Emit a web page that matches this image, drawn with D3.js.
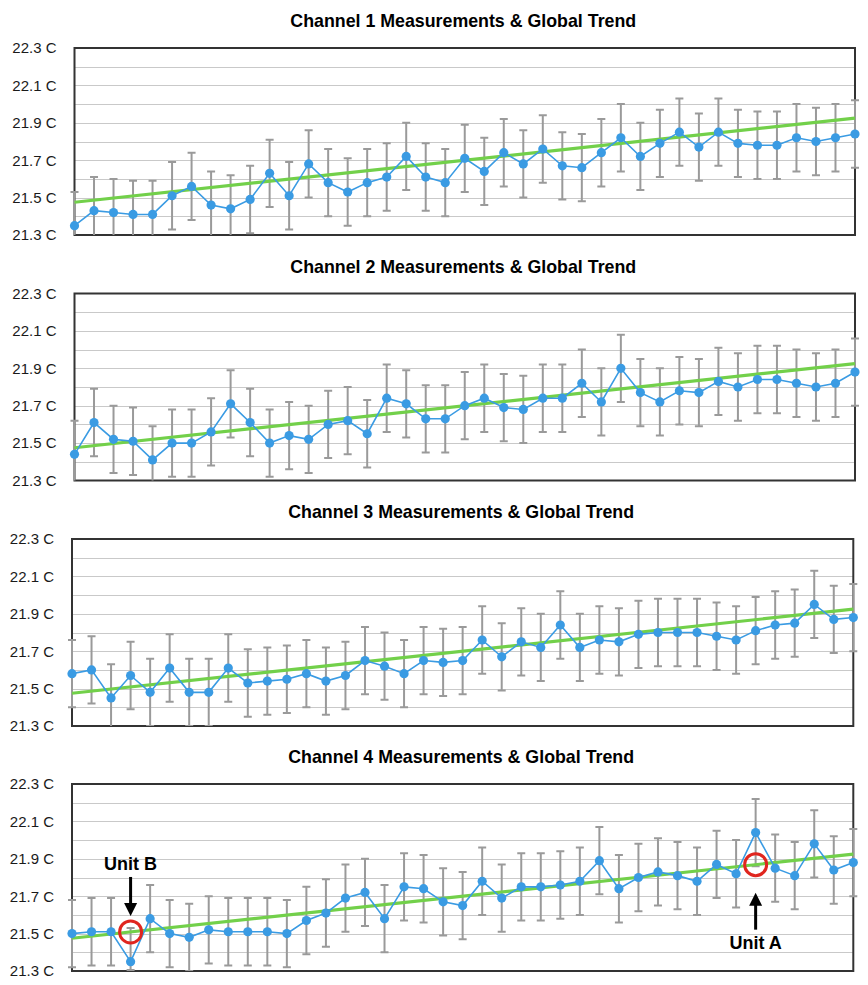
<!DOCTYPE html>
<html>
<head>
<meta charset="utf-8">
<script src="https://cdn.jsdelivr.net/npm/d3@7"></script>
<style>
  body { margin: 0; background: #ffffff; }
  svg { display: block; font-family: "Liberation Sans", Arial, Helvetica, sans-serif; }
</style>
</head>
<body>
<svg id="chart" width="868" height="985"></svg>
<script>
// ---------------- DATA ----------------
const channelTitles = [
  "Channel 1 Measurements & Global Trend",
  "Channel 2 Measurements & Global Trend",
  "Channel 3 Measurements & Global Trend",
  "Channel 4 Measurements & Global Trend"
];

const sampleIndex = [0,1,2,3,4,5,6,7,8,9,10,11,12,13,14,15,16,17,18,19,20,
                     21,22,23,24,25,26,27,28,29,30,31,32,33,34,35,36,37,38,39,40];

const ch1 = [21.35,21.43,21.42,21.41,21.41,21.51,21.56,21.46,21.44,21.49,21.63,21.51,
             21.68,21.58,21.53,21.58,21.61,21.72,21.61,21.58,21.71,21.64,21.74,21.68,21.76,21.67,21.66,
             21.74,21.82,21.72,21.79,21.85,21.77,21.85,21.79,21.78,21.78,21.82,21.80,21.82,21.84];

const ch2 = [21.44,21.61,21.52,21.51,21.41,21.50,21.50,21.56,21.71,21.61,21.50,21.54,
             21.52,21.60,21.62,21.55,21.74,21.71,21.63,21.63,21.70,21.74,21.69,21.68,21.74,21.74,21.82,
             21.72,21.90,21.77,21.72,21.78,21.77,21.83,21.80,21.84,21.84,21.82,21.80,21.82,21.88];

const ch3 = [21.58,21.60,21.45,21.57,21.48,21.61,21.48,21.48,21.61,21.53,21.54,21.55,
             21.58,21.54,21.57,21.65,21.62,21.58,21.65,21.64,21.65,21.76,21.67,21.75,21.72,21.84,21.72,
             21.76,21.75,21.79,21.80,21.80,21.80,21.78,21.76,21.81,21.84,21.85,21.95,21.87,21.88];

const ch4 = [21.50,21.51,21.51,21.35,21.58,21.50,21.48,21.52,21.51,21.51,21.51,21.50,
             21.57,21.61,21.69,21.72,21.58,21.75,21.74,21.67,21.65,21.78,21.69,21.75,21.75,21.76,21.78,
             21.89,21.74,21.80,21.83,21.81,21.78,21.87,21.82,22.04,21.85,21.81,21.98,21.84,21.88];

// error bar half-widths (upper), shared by all channels
const errUpper = [0.18,0.18,0.18,0.18,0.18,0.18,0.18,0.18,0.18,0.18,0.18,0.18,0.18,0.18,
                  0.18,0.18,0.18,0.18,0.18,0.18,0.18,0.18,0.18,0.18,0.18,0.18,0.18,0.18,
                  0.18,0.18,0.18,0.18,0.18,0.18,0.18,0.18,0.18,0.18,0.18,0.18,0.18];
// channel 4 lower error (Unit B has a short lower bar)
const ch4ErrLower = [0.18,0.18,0.18,0.045,0.18,0.18,0.18,0.18,0.18,0.18,0.18,0.18,0.18,0.18,
                  0.18,0.18,0.18,0.18,0.18,0.18,0.18,0.18,0.18,0.18,0.18,0.18,0.18,0.18,
                  0.18,0.18,0.18,0.18,0.18,0.18,0.18,0.18,0.18,0.18,0.18,0.18,0.18];

const trendEnds = [21.475, 21.925];   // global trend at first and last sample
const yTickValues = [21.3, 21.5, 21.7, 21.9, 22.1, 22.3];
const gridValues = [21.4, 21.5, 21.6, 21.7, 21.8, 21.9, 22.0, 22.1, 22.2];

const annotationLabels = ["Unit B", "Unit A"];
const annotationIndex = [3, 35];

// ---------------- LAYOUT ----------------
const series = [
  { values: ch1, up: errUpper, down: errUpper },
  { values: ch2, up: errUpper, down: errUpper },
  { values: ch3, up: errUpper, down: errUpper },
  { values: ch4, up: errUpper, down: ch4ErrLower }
];
const panelLayout = [
  { top: 48,    left: 74.5, right: 855 },
  { top: 293.5, left: 74.5, right: 855 },
  { top: 539,   left: 72,   right: 853.3 },
  { top: 784,   left: 72,   right: 853.3 }
];
const panelHeight = 187;

const COL_LINE = "#3a9be3";
const COL_TREND = "#72d04a";
const COL_ERR = "#9a9a9a";
const COL_GRID = "#c9c9c9";
const COL_FRAME = "#333333";

const svg = d3.select("#chart");

series.forEach((s, p) => {
  const L = panelLayout[p];
  const x = d3.scaleLinear().domain([0, sampleIndex.length - 1]).range([L.left, L.right]);
  const y = d3.scaleLinear().domain([21.3, 22.3]).range([L.top + panelHeight, L.top]);
  const g = svg.append("g");

  // title
  g.append("text")
    .attr("x", (L.left + L.right) / 2 - 1.5)
    .attr("y", L.top - 21)
    .attr("text-anchor", "middle")
    .style("font-size", "17.8px")
    .style("font-weight", "bold")
    .attr("fill", "#000")
    .text(channelTitles[p]);

  // gridlines
  g.append("g").selectAll("line").data(gridValues).join("line")
    .attr("x1", L.left).attr("x2", L.right)
    .attr("y1", d => Math.round(y(d)) + 0.5).attr("y2", d => Math.round(y(d)) + 0.5)
    .attr("stroke", COL_GRID).attr("stroke-width", 1);

  // y axis labels
  const axis = d3.axisLeft(y).tickValues(yTickValues)
    .tickFormat(d => d.toFixed(1) + " C").tickSize(0).tickPadding(18);
  const ag = g.append("g").attr("transform", `translate(${L.left},0)`).call(axis);
  ag.select(".domain").remove();
  ag.selectAll("text").style("font-size", "15px").attr("fill", "#1a1a1a")
    .style("font-family", "'Liberation Sans', Arial, sans-serif");

  // clip (vertical only)
  const clipId = "clip" + p;
  svg.append("clipPath").attr("id", clipId).append("rect")
    .attr("x", L.left - 20).attr("y", L.top)
    .attr("width", L.right - L.left + 40).attr("height", panelHeight);

  // frame
  g.append("rect")
    .attr("x", L.left).attr("y", L.top)
    .attr("width", L.right - L.left).attr("height", panelHeight)
    .attr("fill", "none").attr("stroke", COL_FRAME).attr("stroke-width", 2);

  const dg = g.append("g").attr("clip-path", `url(#${clipId})`);
  const pts = sampleIndex.map((i) => ({ i, v: s.values[i], up: s.up[i], dn: s.down[i] }));

  // error bars
  const eb = dg.append("g").attr("stroke", COL_ERR).attr("stroke-width", 2);
  eb.selectAll("line.v").data(pts).join("line").attr("class", "v")
    .attr("x1", d => x(d.i)).attr("x2", d => x(d.i))
    .attr("y1", d => y(d.v + d.up)).attr("y2", d => y(d.v - d.dn));
  eb.selectAll("line.t").data(pts).join("line").attr("class", "t")
    .attr("x1", d => x(d.i) - 4).attr("x2", d => x(d.i) + 4)
    .attr("y1", d => y(d.v + d.up)).attr("y2", d => y(d.v + d.up));
  eb.selectAll("line.b").data(pts).join("line").attr("class", "b")
    .attr("x1", d => x(d.i) - 4).attr("x2", d => x(d.i) + 4)
    .attr("y1", d => y(d.v - d.dn)).attr("y2", d => y(d.v - d.dn));

  // global trend
  dg.append("line")
    .attr("x1", x(0)).attr("x2", x(sampleIndex.length - 1))
    .attr("y1", y(trendEnds[0])).attr("y2", y(trendEnds[1]))
    .attr("stroke", COL_TREND).attr("stroke-width", 3.2).attr("stroke-linecap", "butt");

  // measurement line
  dg.append("path").datum(pts)
    .attr("d", d3.line().x(d => x(d.i)).y(d => y(d.v)))
    .attr("fill", "none").attr("stroke", COL_LINE).attr("stroke-width", 1.6);

  dg.append("g").selectAll("circle").data(pts).join("circle")
    .attr("cx", d => x(d.i)).attr("cy", d => y(d.v)).attr("r", 4.6)
    .attr("fill", COL_LINE);

  // annotations on channel 4
  if (p === 3) {
    const trendAt = i => trendEnds[0] + (trendEnds[1] - trendEnds[0]) * i / (sampleIndex.length - 1);
    annotationIndex.forEach((idx, k) => {
      const cx = x(idx), cy = y(trendAt(idx));
      g.append("circle").attr("cx", cx).attr("cy", cy).attr("r", 11)
        .attr("fill", "none").attr("stroke", "#e0261f").attr("stroke-width", 3);
      const above = k === 0;
      let shaftA, shaftB, tip, baseY, textY;
      if (above) {
        shaftA = cy - 55; tip = cy - 16; baseY = tip - 13; textY = cy - 62;
        g.append("line").attr("x1", cx).attr("x2", cx).attr("y1", shaftA).attr("y2", baseY + 1)
          .attr("stroke", "#000").attr("stroke-width", 3);
        g.append("path").attr("d", `M${cx - 6.5},${baseY} L${cx + 6.5},${baseY} L${cx},${tip} Z`).attr("fill", "#000");
      } else {
        tip = cy + 28; baseY = tip + 13; shaftB = cy + 65; textY = cy + 84;
        g.append("line").attr("x1", cx).attr("x2", cx).attr("y1", baseY - 1).attr("y2", shaftB)
          .attr("stroke", "#000").attr("stroke-width", 3);
        g.append("path").attr("d", `M${cx - 6.5},${baseY} L${cx + 6.5},${baseY} L${cx},${tip} Z`).attr("fill", "#000");
      }
      g.append("text").attr("x", cx).attr("y", textY).attr("text-anchor", "middle")
        .style("font-size", "18px").style("font-weight", "bold").attr("fill", "#000")
        .text(annotationLabels[k]);
    });
  }
});
</script>
</body>
</html>
